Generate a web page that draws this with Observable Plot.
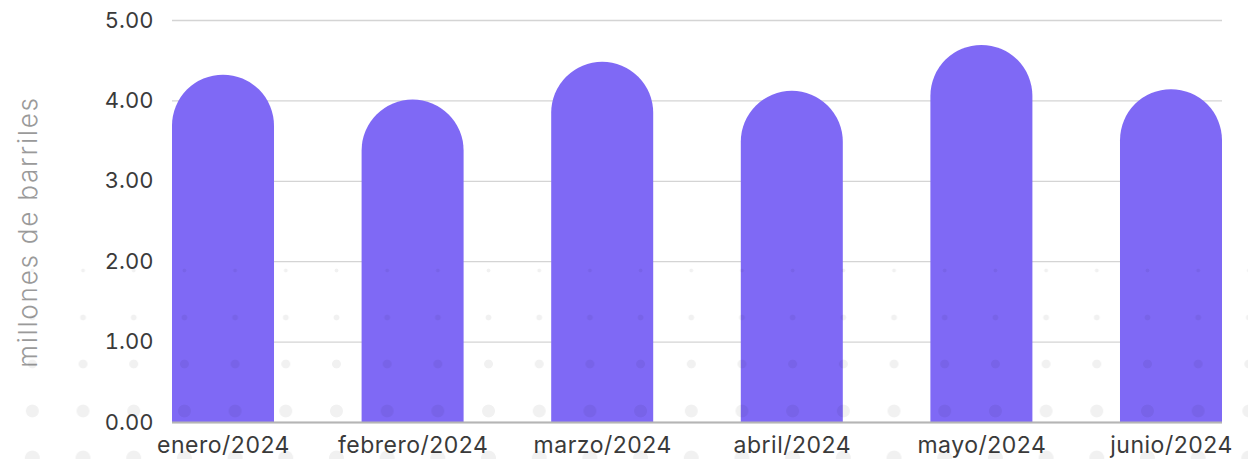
<!DOCTYPE html>
<html>
<head>
<meta charset="utf-8">
<script src="https://cdn.jsdelivr.net/npm/d3@7"></script>
<script src="https://cdn.jsdelivr.net/npm/@observablehq/plot@0.6"></script>
<style>
  html, body { margin: 0; padding: 0; background: #fff; }
  #wrap { position: relative; width: 1248px; height: 459px; overflow: hidden; font-family: Inter, sans-serif; }
  #ylabel { position: absolute; left: 27px; top: 232px; transform: translate(-50%, -50%) rotate(-90deg);
    white-space: nowrap; font-size: 26px; font-weight: 300; letter-spacing: 1.8px; color: #9a9a9a; font-family: Inter, sans-serif; }
  .dots { position: absolute; left: 7px; width: 1248px; pointer-events: none; }
</style>
</head>
<body>
<div id="wrap"><div id="ylabel">millones de barriles</div></div>
<script>
const months = ["enero/2024", "febrero/2024", "marzo/2024", "abril/2024", "mayo/2024", "junio/2024"];
const values = [4.32, 4.01, 4.48, 4.12, 4.69, 4.14];
const yTicks = [0, 1, 2, 3, 4, 5];

const data = months.map((m, i) => ({month: m, value: values[i]}));
const color = "#7f69f5";

const chart = Plot.plot({
  width: 1248,
  height: 459,
  marginTop: 20,
  marginBottom: 37,
  marginLeft: 172,
  marginRight: 26,
  style: {fontFamily: "Inter, sans-serif", fontSize: "23px", color: "#3a3a3a", background: "transparent"},
  x: {domain: months, paddingInner: 0.462, paddingOuter: 0, round: false, label: null},
  y: {domain: [0, 5], label: null},
  marks: [
    Plot.gridY(yTicks, {stroke: "#d4d4d4", strokeOpacity: 1, strokeWidth: 1.3}),
    // rounded-top bars: round all corners, push the bottom below the frame and clip it
    Plot.barY(data, {x: "month", y: "value", fill: color, rx: 51, insetBottom: -70, clip: true}),
    Plot.ruleY([0], {stroke: "#b5b5b5", strokeWidth: 2}),
    Plot.axisY(yTicks, {tickSize: 0, tickPadding: 19, tickFormat: d => d.toFixed(2), label: null, fontSize: 22, fill: "#3a3a3a"}),
    Plot.axisX({tickSize: 0, tickPadding: 14, label: null, fontSize: 23, fill: "#3a3a3a"})
  ]
});
d3.select(chart).selectAll('[aria-label="x-axis tick label"]').style("letter-spacing", "0.5px");
const wrap = document.getElementById("wrap");
wrap.insertBefore(chart, wrap.firstChild);

// decorative background dot pattern (not data)
const rows = [[270, 1.5], [317, 2.5], [364, 4], [411, 6], [458, 7]];
for (const [cy, r] of rows) {
  const d = document.createElement("div");
  d.className = "dots";
  const h = 2 * r + 4;
  d.style.top = (cy - h / 2) + "px";
  d.style.height = h + "px";
  d.style.backgroundImage = `radial-gradient(circle at 25.35px ${h/2}px, rgba(0,0,0,0.055) ${r}px, rgba(0,0,0,0) ${r + 0.8}px)`;
  d.style.backgroundSize = `50.7px ${h}px`;
  d.style.backgroundRepeat = "repeat-x";
  wrap.appendChild(d);
}
</script>
</body>
</html>
